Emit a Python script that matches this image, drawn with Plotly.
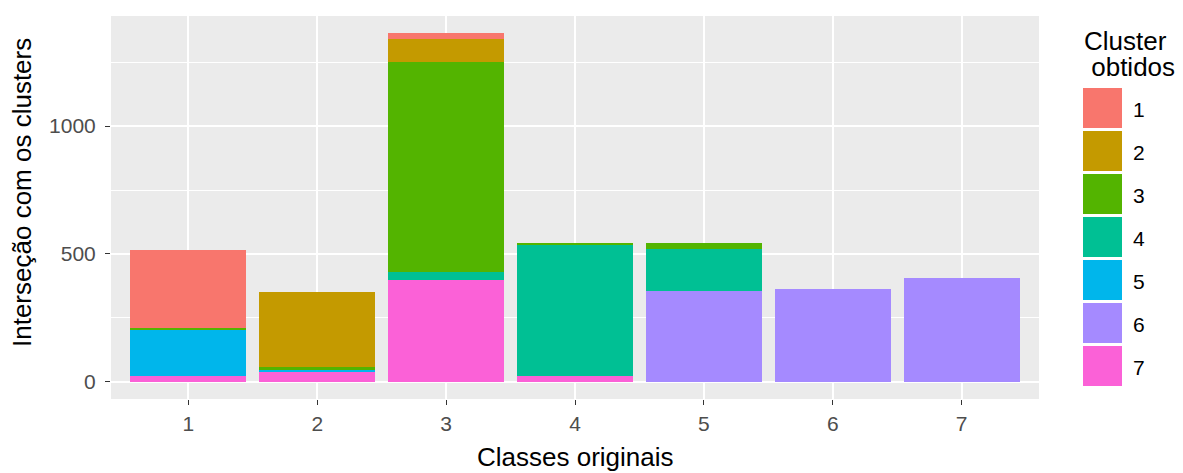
import plotly.graph_objects as go

# data
classes = ["1", "2", "3", "4", "5", "6", "7"]
clusters = ["1", "2", "3", "4", "5", "6", "7"]
cluster_1 = [305, 0, 22, 0, 0, 0, 0]
cluster_2 = [0, 291, 88, 0, 0, 0, 0]
cluster_3 = [5, 15, 824, 5, 22, 0, 0]
cluster_4 = [0, 0, 30, 515, 165, 0, 0]
cluster_5 = [185, 4, 0, 0, 0, 0, 0]
cluster_6 = [0, 0, 0, 0, 355, 361, 405]
cluster_7 = [20, 40, 399, 20, 0, 0, 0]

series = [cluster_1, cluster_2, cluster_3, cluster_4, cluster_5, cluster_6, cluster_7]
colors = ["#F8766D", "#C49A00", "#53B400", "#00C094", "#00B6EB", "#A58AFF", "#FB61D7"]

W, H = 1183, 473
L, R, T, B = 111, 1039, 16, 399
FONT = "Liberation Sans, Arial, sans-serif"


def px_x(x):
    return (x - L) / (R - L)


def px_y(y):
    return (B - y) / (B - T)


fig = go.Figure()
# ggplot stacks cluster 1 on top, so add traces from the last cluster down
for name, vals, col in reversed(list(zip(clusters, series, colors))):
    fig.add_trace(go.Bar(x=classes, y=vals, name=name, marker_color=col,
                         marker_line_width=0, showlegend=False))

totals = [sum(v) for v in zip(*series)]
ymax = max(totals)

fig.update_layout(
    barmode="stack", bargap=0.1,
    width=W, height=H,
    margin=dict(l=L, r=W - R, t=T, b=H - B),
    paper_bgcolor="white", plot_bgcolor="#EBEBEB",
    font=dict(family=FONT, color="#4D4D4D", size=21),
)
fig.update_xaxes(
    range=[-0.6, 6.6], showgrid=True, gridcolor="white", gridwidth=1.5,
    ticks="outside", ticklen=5, tickcolor="#333333", zeroline=False,
    ticklabelstandoff=1,
    tickfont=dict(size=21, color="#4D4D4D"),
)
fig.update_yaxes(
    range=[-0.05 * ymax, 1.05 * ymax], tickvals=[0, 500, 1000],
    showgrid=True, gridcolor="white", gridwidth=1.5, zeroline=False,
    ticks="outside", ticklen=5, tickcolor="#333333", ticklabelstandoff=5,
    tickfont=dict(size=21, color="#4D4D4D"),
    minor=dict(tickvals=[250, 750, 1250], showgrid=True, gridcolor="white", gridwidth=0.7, ticks=""),
)

# axis titles
fig.add_annotation(text="Classes originais", x=px_x(575), y=px_y(457), xref="paper", yref="paper",
                   showarrow=False, xanchor="center", yanchor="middle",
                   font=dict(size=26, color="black", family=FONT))
fig.add_annotation(text="Interseção com os clusters", x=px_x(22), y=px_y(193), xref="paper", yref="paper",
                   showarrow=False, xanchor="center", yanchor="middle", textangle=-90,
                   font=dict(size=26, color="black", family=FONT))

# legend drawn by hand to get ggplot-sized keys
fig.add_annotation(text="Cluster", x=px_x(1083), y=px_y(41), xref="paper", yref="paper",
                   showarrow=False, xanchor="left", yanchor="middle", borderpad=0,
                   font=dict(size=26, color="black", family=FONT))
fig.add_annotation(text="\u00a0obtidos", x=px_x(1083), y=px_y(67), xref="paper", yref="paper",
                   showarrow=False, xanchor="left", yanchor="middle", borderpad=0,
                   font=dict(size=26, color="black", family=FONT))
for i, (name, col) in enumerate(zip(clusters, colors)):
    top = 88 + 43 * i
    fig.add_shape(type="rect", xref="paper", yref="paper",
                  x0=px_x(1083), x1=px_x(1122), y0=px_y(top + 40), y1=px_y(top),
                  fillcolor=col, line=dict(width=0))
    fig.add_annotation(text=name, x=px_x(1131), y=px_y(top + 21), xref="paper", yref="paper",
                       showarrow=False, xanchor="left", yanchor="middle",
                       font=dict(size=21, color="black", family=FONT))

# drop the default body margin so the figure sits at the page corner
fig.write_html("out.html", config={"displayModeBar": False},
               post_script="document.body.style.margin='0';")
